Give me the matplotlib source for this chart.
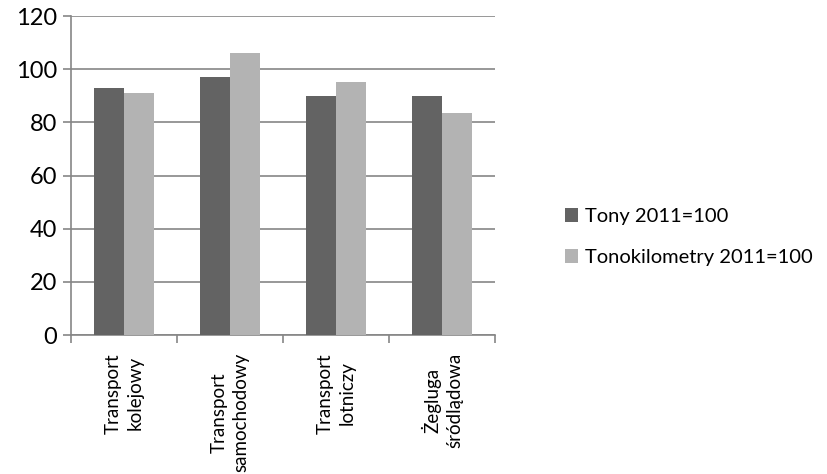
import numpy as np
import matplotlib.pyplot as plt

plt.rcParams['font.family'] = ['Lato', 'DejaVu Sans']

categories = ['Transport\nkolejowy', 'Transport\nsamochodowy', 'Transport\nlotniczy',
              'Żegluga\nśródlądowa']
tony = [93, 97, 90, 90]
tonokm = [91, 106, 95, 83.5]
series_names = ['Tony 2011=100', 'Tonokilometry 2011=100']
colors = ['#636363', '#b3b3b3']
axis_color = '#868686'

fig = plt.figure(figsize=(8.28, 4.74), dpi=100)
ax = fig.add_axes([0.0858, 0.2932, 0.512, 0.673])

x = np.arange(len(categories))
w = 0.286
ax.bar(x - w / 2, tony, w, color=colors[0], label=series_names[0], zorder=3)
ax.bar(x + w / 2, tonokm, w, color=colors[1], label=series_names[1], zorder=3)

ax.set_xlim(-0.5, len(categories) - 0.5)
ax.set_ylim(0, 120)
ax.set_yticks(np.arange(0, 121, 20))
ax.grid(axis='y', color=axis_color, linewidth=1.2, zorder=0)

for s in ['top', 'right']:
    ax.spines[s].set_visible(False)
for s in ['left', 'bottom']:
    ax.spines[s].set_color(axis_color)
    ax.spines[s].set_linewidth(1.2)

ax.tick_params(axis='y', length=6, width=1.2, color=axis_color, labelsize=17, pad=4)
ax.set_xticks(x)
ax.set_xticklabels(categories, rotation=90, ha='center', va='top',
                   multialignment='center', linespacing=1.35)
ax.tick_params(axis='x', which='major', length=0, labelsize=13.5, pad=13)
ax.set_xticks(np.arange(-0.5, len(categories), 1), minor=True)
ax.tick_params(axis='x', which='minor', length=6, width=1.2, color=axis_color)

fig.legend(loc='center left', bbox_to_anchor=(0.66, 0.5), frameon=False,
           fontsize=14.5, handlelength=0.65, handleheight=0.65, handletextpad=0.35,
           labelspacing=1.2)

fig.savefig('out.png', dpi=100)
